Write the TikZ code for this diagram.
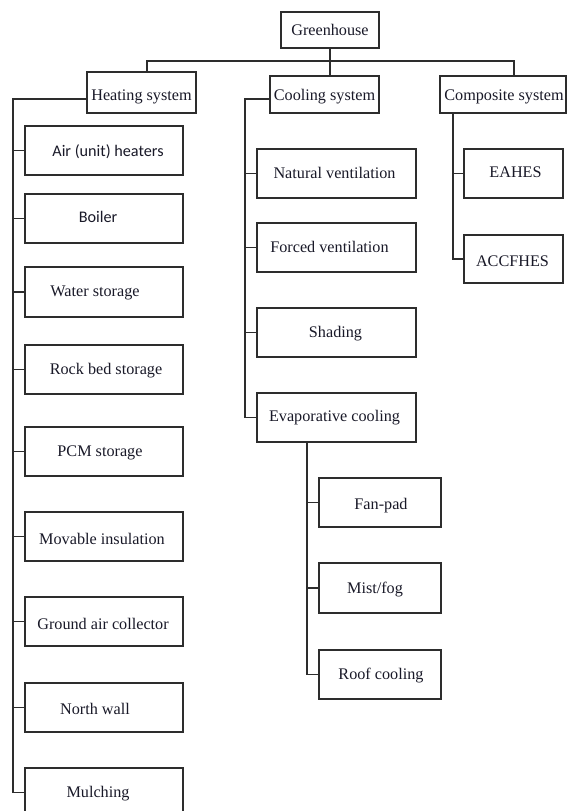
\documentclass[tikz,border=0pt]{standalone}
\usepackage{fontspec}
\setmainfont{Liberation Serif}
\newfontfamily\calib{Carlito}
\definecolor{ln}{RGB}{45,45,45}
\definecolor{tx}{RGB}{25,25,40}
\tikzset{
  bx/.style={draw=ln, line width=1.1pt, rectangle, inner sep=0pt},
  lbl/.style={text=tx, font=\fontsize{16.2}{19}\selectfont, inner sep=0pt},
  conn/.style={draw=ln, line width=1.1pt},
}
\newcommand\mkbox[7]{%
  \node[bx, minimum width={#3pt-#2pt}, minimum height={#5pt-#4pt},
        label={[lbl, yshift=-1pt, #6]center:#7}]
        (#1) at ({(#2+#3)/2},{(#4+#5)/2}) {};}
\begin{document}
\begin{tikzpicture}[x=1pt,y=-1pt]
\clip (0,0) rectangle (567,811);
\fill[white] (0,0) rectangle (567,811);
% top level
\mkbox{gh}{281}{379}{12}{48}{yshift=1pt}{Greenhouse}
\mkbox{heat}{87}{196}{72}{113}{yshift=-3pt}{Heating system}
\mkbox{cool}{270}{379}{76}{113}{yshift=-1pt}{Cooling system}
\mkbox{comp}{440}{566}{76}{113}{xshift=1pt, yshift=-1pt}{Composite system}
% heating children
\mkbox{air}{25}{183}{126}{175}{xshift=4pt}{\calib Air (unit) heaters}
\mkbox{boil}{25}{183}{194}{243}{xshift=-6pt, yshift=3pt}{\calib Boiler}
\mkbox{water}{25}{183}{267}{317}{xshift=-9pt}{Water storage}
\mkbox{rock}{25}{183}{345}{394}{xshift=2pt}{Rock bed storage}
\mkbox{pcm}{25}{183}{427}{476}{xshift=-4pt}{PCM storage}
\mkbox{mov}{25}{183}{512}{561}{xshift=-2pt, yshift=-1pt}{Movable insulation}
\mkbox{gnd}{25}{183}{597}{646}{xshift=-1pt, yshift=-1pt}{Ground air collector}
\mkbox{north}{25}{183}{683}{732}{xshift=-9pt}{North wall}
\mkbox{mulch}{25}{183}{768}{817}{xshift=-6pt}{Mulching}
% cooling children
\mkbox{nat}{257}{416}{149}{198}{xshift=-2pt, yshift=2pt}{Natural ventilation}
\mkbox{forc}{257}{416}{223}{272}{xshift=-7pt, yshift=2pt}{Forced ventilation}
\mkbox{shad}{257}{416}{308}{357}{xshift=-1pt}{Shading}
\mkbox{evap}{257}{416}{393}{442}{xshift=-2pt, yshift=1pt}{Evaporative cooling}
% evaporative children
\mkbox{fan}{319}{441}{478}{527}{xshift=1pt, yshift=-2pt}{Fan-pad}
\mkbox{mist}{319}{441}{563}{613}{xshift=-5pt, yshift=-1pt}{Mist/fog}
\mkbox{roof}{319}{441}{650}{699}{xshift=1pt}{Roof cooling}
% composite children
\mkbox{eah}{464}{563}{149}{198}{xshift=2pt, yshift=2pt}{EAHES}
\mkbox{acc}{464}{563}{235}{283}{xshift=-1pt, yshift=-1pt}{ACCFHES}
% top connectors
\coordinate (barL) at (147,61);
\coordinate (barR) at (514,61);
\draw[conn] (barL |- heat.north) -- (barL) -- (barR) -- (barR |- comp.north);
\draw[conn] (gh.south) -- (gh.south |- cool.north);
% heating trunk
\coordinate (ht) at (13,99);
\draw[conn] (heat.west |- ht) -- (ht) -- (ht |- mulch.west) -- (mulch.west);
\foreach \n in {air,boil,water,rock,pcm,mov,gnd,north}
  \draw[conn] (ht |- \n.west) -- (\n.west);
% cooling trunk
\coordinate (ct) at (245,99);
\draw[conn] (cool.west |- ct) -- (ct) -- (ct |- evap.west) -- (evap.west);
\foreach \n in {nat,forc,shad}
  \draw[conn] (ct |- \n.west) -- (\n.west);
% evaporative trunk
\coordinate (et) at (307,442);
\draw[conn] (et |- evap.south) -- (et |- roof.west) -- (roof.west);
\foreach \n in {fan,mist}
  \draw[conn] (et |- \n.west) -- (\n.west);
% composite trunk
\coordinate (mt) at (453,113);
\draw[conn] (mt |- comp.south) -- (mt |- acc.west) -- (acc.west);
\draw[conn] (mt |- eah.west) -- (eah.west);
\end{tikzpicture}
\end{document}
